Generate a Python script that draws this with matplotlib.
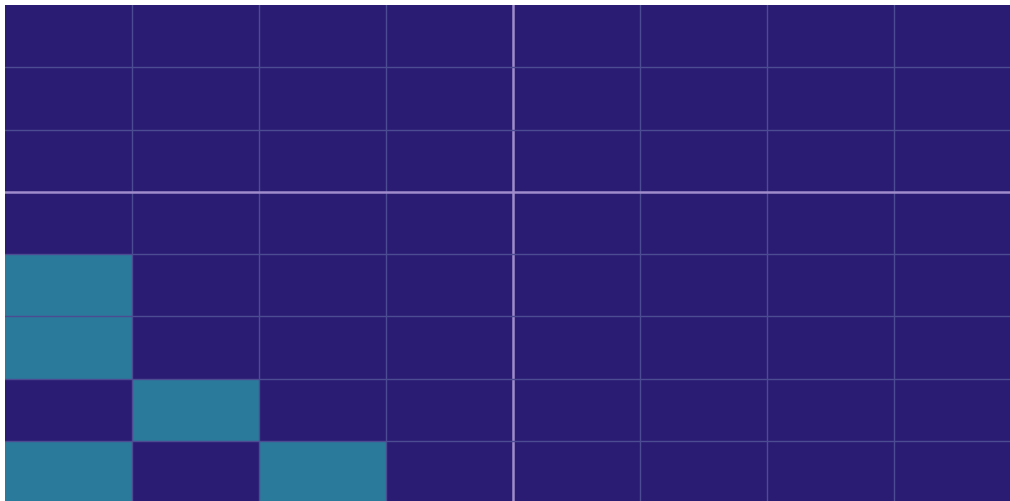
import numpy as np
import matplotlib
matplotlib.use("Agg")
import matplotlib.pyplot as plt
from matplotlib.colors import ListedColormap

# Cell states, top row first (0 = off, 1 = on)
row_labels = ["r1", "r2", "r3", "r4", "r5", "r6", "r7", "r8"]
col_labels = ["c1", "c2", "c3", "c4", "c5", "c6", "c7", "c8"]
cells = [
    [0, 0, 0, 0, 0, 0, 0, 0],
    [0, 0, 0, 0, 0, 0, 0, 0],
    [0, 0, 0, 0, 0, 0, 0, 0],
    [0, 0, 0, 0, 0, 0, 0, 0],
    [1, 0, 0, 0, 0, 0, 0, 0],
    [1, 0, 0, 0, 0, 0, 0, 0],
    [0, 1, 0, 0, 0, 0, 0, 0],
    [1, 0, 1, 0, 0, 0, 0, 0],
]
# Block boundaries drawn heavier
major_cols = [4]
major_rows = [3]

W, H = 1010, 501
fig = plt.figure(figsize=(W / 100, H / 100), dpi=100)
fig.patch.set_facecolor("white")
ax = fig.add_axes([5 / W, -2 / H, 1016 / W, 498 / H])

cmap = ListedColormap(["#2a1c73", "#2a7a9b"])
data = np.array(cells)
nr, nc = data.shape
ax.pcolormesh(np.arange(nc + 1), np.arange(nr + 1), data, cmap=cmap,
              vmin=0, vmax=1)
ax.set_xlim(0, nc)
ax.set_ylim(nr, 0)

for x in range(1, nc):
    if x in major_cols:
        ax.axvline(x, color="#a08ccc", lw=1.8)
    else:
        ax.axvline(x, color="#4c4c92", lw=1.0)
for y in range(1, nr):
    if y in major_rows:
        ax.axhline(y, color="#a08ccc", lw=1.8)
    else:
        ax.axhline(y, color="#4c4c92", lw=1.0)

ax.set_xticks([])
ax.set_yticks([])
for s in ax.spines.values():
    s.set_visible(False)

fig.savefig("out.png", dpi=100, facecolor="white")
